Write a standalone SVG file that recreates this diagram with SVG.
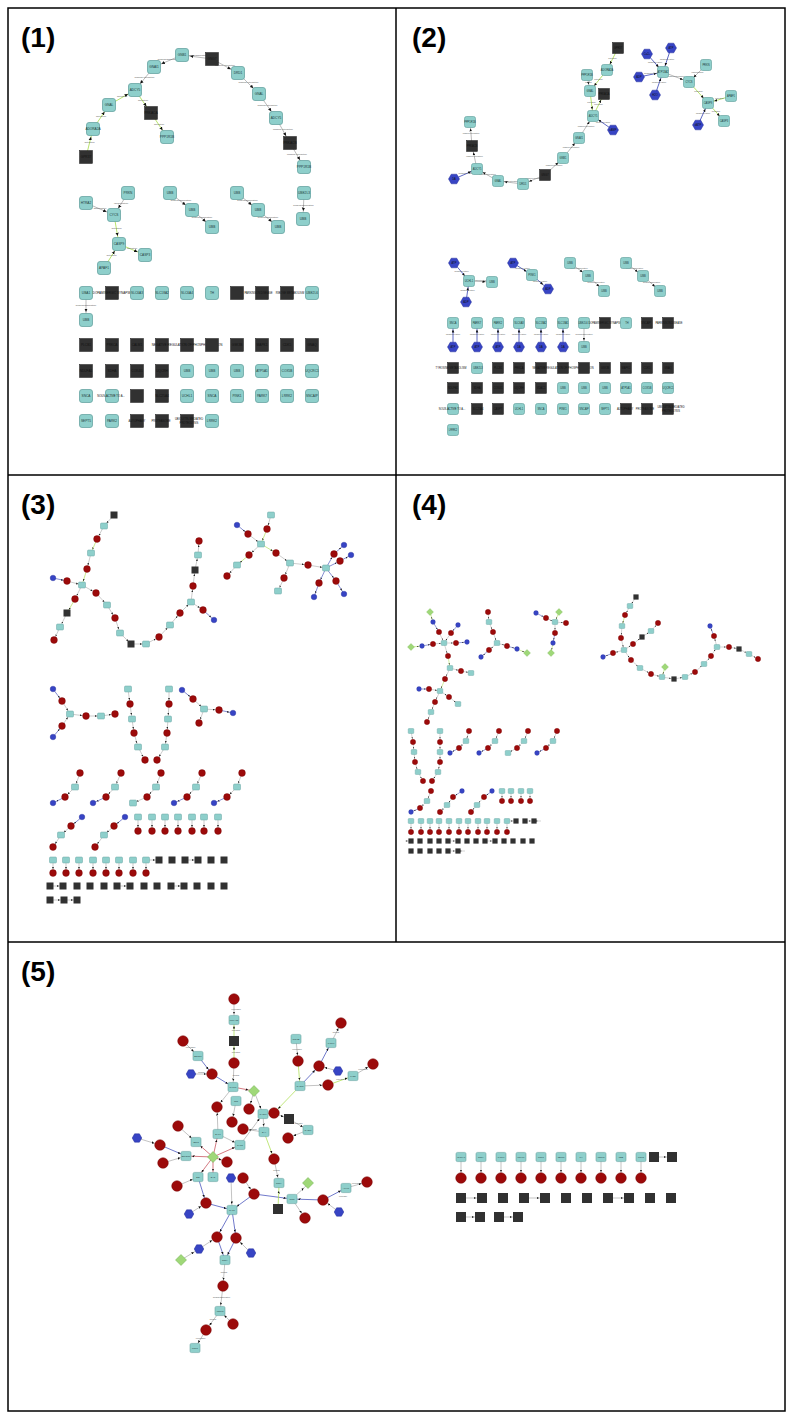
<svg xmlns="http://www.w3.org/2000/svg" xmlns:xlink="http://www.w3.org/1999/xlink" width="793" height="1419" viewBox="0 0 793 1419">
<style>
text{font-family:"Liberation Sans",Arial,sans-serif}
.pl{font-size:28px;font-weight:bold;fill:#000}
.l1{font-size:3.2px;text-anchor:middle;fill:#1d3b3a}
.l2{font-size:2.6px;text-anchor:middle;fill:#1d3b3a}
.l5{font-size:2.1px;text-anchor:middle;fill:#1d3b3a}
.lk{fill:#111}
.wt{font-size:3px;text-anchor:middle;fill:#111}
.ws{font-size:2.7px}
.w2{font-size:2.6px;text-anchor:middle;fill:#111}
.el{font-size:2.4px;text-anchor:middle;fill:#555}
.el2{font-size:2px;text-anchor:middle;fill:#555}
line{stroke:#a9a9a9;stroke-width:0.8;fill:none}
.gr{stroke:#a6dc45}
.bl{stroke:#3441b4}
.rd{stroke:#c2404c}
.c1 line{marker-end:url(#a1)}
.c2 line{marker-end:url(#a2)}
.c3 line{marker-end:url(#a3);stroke-width:0.6}
.c4 line{marker-end:url(#a4);stroke-width:0.5}
.c5 line{marker-end:url(#a5);stroke-width:0.7}
</style>
<defs>
<marker id="a1" markerUnits="userSpaceOnUse" markerWidth="4" markerHeight="4" refX="11.5" refY="2" orient="auto"><path d="M0,0.4 L3.5,2 L0,3.6z" fill="#111"/></marker>
<marker id="a2" markerUnits="userSpaceOnUse" markerWidth="3" markerHeight="3" refX="9.5" refY="1.5" orient="auto"><path d="M0,0.2 L3,1.5 L0,2.8z" fill="#111"/></marker>
<marker id="a3" markerUnits="userSpaceOnUse" markerWidth="2" markerHeight="2" refX="6" refY="1" orient="auto"><path d="M0,0 L2,1 L0,2z" fill="#222"/></marker>
<marker id="a4" markerUnits="userSpaceOnUse" markerWidth="1.6" markerHeight="1.6" refX="4.8" refY="0.8" orient="auto"><path d="M0,0 L1.6,0.8 L0,1.6z" fill="#222"/></marker>
<marker id="a5" markerUnits="userSpaceOnUse" markerWidth="2.5" markerHeight="2.5" refX="8.5" refY="1.25" orient="auto"><path d="M0,0 L2.5,1.25 L0,2.5z" fill="#111"/></marker>
<rect id="t1" x="-6.5" y="-6.5" width="13" height="13" rx="2.5" fill="#8ecfcb" stroke="#68a5a2" stroke-width="0.8"/>
<rect id="k1" x="-6.5" y="-6.5" width="13" height="13" fill="#313131" stroke="#1e1e1e" stroke-width="0.5"/>
<rect id="t2" x="-5.5" y="-5.5" width="11" height="11" rx="2" fill="#8ecfcb" stroke="#68a5a2" stroke-width="0.7"/>
<rect id="k2" x="-5.5" y="-5.5" width="11" height="11" fill="#313131" stroke="#1e1e1e" stroke-width="0.5"/>
<polygon id="b2" points="-5.5,0 -2.75,-4.8 2.75,-4.8 5.5,0 2.75,4.8 -2.75,4.8" fill="#3744c4" stroke="#26309a" stroke-width="0.5"/>
<rect id="t3" x="-3.5" y="-3" width="7" height="6" rx="1" fill="#8ecfcb" stroke="#68a5a2" stroke-width="0.5"/>
<rect id="k3" x="-3.5" y="-3.5" width="7" height="7" fill="#313131"/>
<circle id="r3" r="3.4" fill="#9c0a0a" stroke="#7a0606" stroke-width="0.4"/>
<circle id="b3" r="2.8" fill="#3744c4" stroke="#26309a" stroke-width="0.4"/>
<rect id="t4" x="-2.8" y="-2.5" width="5.6" height="5" rx="0.8" fill="#8ecfcb" stroke="#68a5a2" stroke-width="0.4"/>
<rect id="k4" x="-2.6" y="-2.6" width="5.2" height="5.2" fill="#313131"/>
<circle id="r4" r="2.7" fill="#9c0a0a" stroke="#7a0606" stroke-width="0.3"/>
<circle id="b4" r="2.4" fill="#3744c4" stroke="#26309a" stroke-width="0.3"/>
<polygon id="g4" points="0,-3.5 3.5,0 0,3.5 -3.5,0" fill="#9fd878" stroke="#6fae4c" stroke-width="0.3"/>
<rect id="t5" x="-5" y="-4.6" width="10" height="9.2" rx="1.5" fill="#8ecfcb" stroke="#68a5a2" stroke-width="0.6"/>
<rect id="k5" x="-5" y="-5" width="10" height="10" fill="#313131"/>
<circle id="r5" r="5.3" fill="#9c0a0a" stroke="#7a0606" stroke-width="0.5"/>
<polygon id="b5" points="-4.8,0 -2.4,-4.2 2.4,-4.2 4.8,0 2.4,4.2 -2.4,4.2" fill="#3744c4" stroke="#26309a" stroke-width="0.5"/>
<polygon id="g5" points="0,-5.5 5.5,0 0,5.5 -5.5,0" fill="#9fd878" stroke="#6fae4c" stroke-width="0.5"/>
</defs>
<rect width="793" height="1419" fill="#fff"/>
<g id="frame" fill="none" stroke="#000" stroke-width="1.5">
<rect x="8" y="8" width="777" height="1403"/>
<path d="M8,475H785M8,942H785M396,8V942"/>
</g>
<g id="panel-labels">
<text class="pl" x="21" y="47">(1)</text>
<text class="pl" x="412" y="47">(2)</text>
<text class="pl" x="21" y="514">(3)</text>
<text class="pl" x="412" y="514">(4)</text>
<text class="pl" x="21" y="981">(5)</text>
</g>

<!-- ================= PANEL 1 ================= -->
<g id="p1-connectors" class="c1">
<line class="gr" x1="86" y1="157" x2="93" y2="129"/>
<line class="gr" x1="93" y1="129" x2="109" y2="105"/>
<line class="gr" x1="109" y1="105" x2="135" y2="90"/>
<line class="gr" x1="135" y1="90" x2="151" y2="113"/>
<line class="gr" x1="151" y1="113" x2="167" y2="137"/>
<line x1="154" y1="67" x2="135" y2="90"/>
<line x1="182" y1="55" x2="154" y2="67"/>
<line x1="212" y1="59" x2="182" y2="55"/>
<line x1="212" y1="59" x2="238" y2="73"/>
<line x1="238" y1="73" x2="259" y2="94"/>
<line x1="259" y1="94" x2="276" y2="118"/>
<line x1="276" y1="118" x2="290" y2="143"/>
<line x1="290" y1="143" x2="304" y2="167"/>
<line x1="128" y1="193" x2="114" y2="215"/>
<line x1="86" y1="203" x2="114" y2="215"/>
<line class="gr" x1="114" y1="215" x2="119" y2="244"/>
<line class="gr" x1="104" y1="268" x2="119" y2="244"/>
<line class="gr" x1="119" y1="244" x2="145" y2="255"/>
<line x1="170" y1="193" x2="192" y2="210"/>
<line x1="192" y1="210" x2="212" y2="227"/>
<line x1="237" y1="193" x2="258" y2="210"/>
<line x1="258" y1="210" x2="278" y2="227"/>
<line x1="304" y1="193" x2="303" y2="219"/>
<line x1="86" y1="293" x2="86" y2="320"/>
</g>
<g id="p1-edge-labels">
<text class="el" x="89.5" y="143">activation</text>
<text class="el" x="101" y="117">activation</text>
<text class="el" x="122" y="96.5">activation</text>
<text class="el" x="143" y="101">activation</text>
<text class="el" x="159" y="124.5">activation</text>
<text class="el" x="144.5" y="78">missing interaction</text>
<text class="el" x="168" y="60">binding/association</text>
<text class="el" x="197" y="56">binding/association</text>
<text class="el" x="225" y="65.5">missing interaction</text>
<text class="el" x="248.5" y="83">missing interaction</text>
<text class="el" x="267.5" y="105.5">missing interaction</text>
<text class="el" x="283" y="130">missing interaction</text>
<text class="el" x="297" y="154.5">missing interaction</text>
<text class="el" x="121" y="203.5">ubiquitination</text>
<text class="el" x="100" y="208.5">dissociation</text>
<text class="el" x="116.5" y="229">activation</text>
<text class="el" x="111.5" y="255.5">activation</text>
<text class="el" x="132" y="249">activation</text>
<text class="el" x="181" y="201">binding/association</text>
<text class="el" x="202" y="218">binding/association</text>
<text class="el" x="247.5" y="201">binding/association</text>
<text class="el" x="268" y="218">binding/association</text>
<text class="el" x="303.5" y="205.5">binding/association</text>
<text class="el" x="86" y="306">binding/association</text>
</g>
<g id="p1-nodes">
<g id="p1-gpr37"><use href="#k1" x="86" y="157"/><text class="l1 lk" x="86" y="158.1">GPR37</text></g>
<g id="p1-adora2a"><use href="#t1" x="93" y="129"/><text class="l1" x="93" y="130.1">ADORA2A</text></g>
<g id="p1-gnal-a"><use href="#t1" x="109" y="105"/><text class="l1" x="109" y="106.1">GNAL</text></g>
<g id="p1-adcy5-a"><use href="#t1" x="135" y="90"/><text class="l1" x="135" y="91.1">ADCY5</text></g>
<g id="p1-prkaca"><use href="#k1" x="151" y="113"/><text class="l1 lk" x="151" y="114.1">PRKACA</text></g>
<g id="p1-ppp1r1b-a"><use href="#t1" x="167" y="137"/><text class="l1" x="167" y="138.1">PPP1R1B</text></g>
<g id="p1-gnai1"><use href="#t1" x="154" y="67"/><text class="l1" x="154" y="68.1">GNAI1</text></g>
<g id="p1-gnb1"><use href="#t1" x="182" y="55"/><text class="l1" x="182" y="56.1">GNB1</text></g>
<g id="p1-gng7"><use href="#k1" x="212" y="59"/><text class="l1 lk" x="212" y="60.1">GNG7</text></g>
<g id="p1-drd1"><use href="#t1" x="238" y="73"/><text class="l1" x="238" y="74.1">DRD1</text></g>
<g id="p1-gnal-b"><use href="#t1" x="259" y="94"/><text class="l1" x="259" y="95.1">GNAL</text></g>
<g id="p1-adcy5-b"><use href="#t1" x="276" y="118"/><text class="l1" x="276" y="119.1">ADCY5</text></g>
<g id="p1-prkacb"><use href="#k1" x="290" y="143"/><text class="l1 lk" x="290" y="144.1">PRKACB</text></g>
<g id="p1-ppp1r1b-b"><use href="#t1" x="304" y="167"/><text class="l1" x="304" y="168.1">PPP1R1B</text></g>
<g id="p1-prkn"><use href="#t1" x="128" y="193"/><text class="l1" x="128" y="194.1">PRKN</text></g>
<g id="p1-htra2"><use href="#t1" x="86" y="203"/><text class="l1" x="86" y="204.1">HTRA2</text></g>
<g id="p1-cycs"><use href="#t1" x="114" y="215"/><text class="l1" x="114" y="216.1">CYCS</text></g>
<g id="p1-casp9"><use href="#t1" x="119" y="244"/><text class="l1" x="119" y="245.1">CASP9</text></g>
<g id="p1-casp3"><use href="#t1" x="145" y="255"/><text class="l1" x="145" y="256.1">CASP3</text></g>
<g id="p1-apaf1"><use href="#t1" x="104" y="268"/><text class="l1" x="104" y="269.1">APAF1</text></g>
<g id="p1-ubb1"><use href="#t1" x="170" y="193"/><text class="l1" x="170" y="194.1">UBB</text></g>
<g id="p1-ubb2"><use href="#t1" x="192" y="210"/><text class="l1" x="192" y="211.1">UBB</text></g>
<g id="p1-ubb3"><use href="#t1" x="212" y="227"/><text class="l1" x="212" y="228.1">UBB</text></g>
<g id="p1-ubb4"><use href="#t1" x="237" y="193"/><text class="l1" x="237" y="194.1">UBB</text></g>
<g id="p1-ubb5"><use href="#t1" x="258" y="210"/><text class="l1" x="258" y="211.1">UBB</text></g>
<g id="p1-ubb6"><use href="#t1" x="278" y="227"/><text class="l1" x="278" y="228.1">UBB</text></g>
<g id="p1-ube2l3"><use href="#t1" x="304" y="193"/><text class="l1" x="304" y="194.1">UBE2L3</text></g>
<g id="p1-ubb7"><use href="#t1" x="303" y="219"/><text class="l1" x="303" y="220.1">UBB</text></g>
<g id="p1-uba1"><use href="#t1" x="86" y="293"/><text class="l1" x="86" y="294.1">UBA1</text></g>
<g id="p1-ubb8"><use href="#t1" x="86" y="320"/><text class="l1" x="86" y="321.1">UBB</text></g>
<g id="p1-r1-2"><use href="#k1" x="112" y="293"/><text class="wt" x="112" y="294.1">DOPAMINERGIC SYNAPSE</text></g>
<g id="p1-r1-3"><use href="#t1" x="137" y="293"/><text class="l1" x="137" y="294.1">SLC6A3</text></g>
<g id="p1-r1-4"><use href="#t1" x="162" y="293"/><text class="l1" x="162" y="294.1">SLC18A2</text></g>
<g id="p1-r1-5"><use href="#t1" x="187" y="293"/><text class="l1" x="187" y="294.1">SLC6A4</text></g>
<g id="p1-r1-6"><use href="#t1" x="212" y="293"/><text class="l1" x="212" y="294.1">TH</text></g>
<g id="p1-r1-7"><use href="#k1" x="237" y="293"/></g>
<g id="p1-r1-8"><use href="#k1" x="262" y="293"/><text class="wt ws" x="258.5" y="294.1">PARKINSON DISEASE</text></g>
<g id="p1-r1-9"><use href="#k1" x="287" y="293"/><text class="wt ws" x="290" y="294.1">RIBOSE METABOLISM</text></g>
<g id="p1-r1-10"><use href="#t1" x="312" y="293"/><text class="l1" x="312" y="294.1">UBE2L6</text></g>
<g id="p1-r2-1"><use href="#k1" x="86" y="345"/><text class="l1 lk" x="86" y="346.1">PLCB1</text></g>
<g id="p1-r2-2"><use href="#k1" x="112" y="345"/><text class="l1 lk" x="112" y="346.1">PRKCA</text></g>
<g id="p1-r2-3"><use href="#k1" x="137" y="345"/><text class="l1 lk" x="137" y="346.1">CALM1</text></g>
<g id="p1-r2-4"><use href="#k1" x="162" y="345"/></g>
<g id="p1-r2-5"><use href="#k1" x="187" y="345"/><text class="wt" x="187" y="346.1">NEGATIVE REGULATION OF PHOSPHORYLATION</text></g>
<g id="p1-r2-6"><use href="#k1" x="212" y="345"/></g>
<g id="p1-r2-7"><use href="#k1" x="237" y="345"/><text class="l1 lk" x="237" y="346.1">GSK3B</text></g>
<g id="p1-r2-8"><use href="#k1" x="262" y="345"/><text class="l1 lk" x="262" y="346.1">MAPK1</text></g>
<g id="p1-r2-9"><use href="#k1" x="287" y="345"/><text class="l1 lk" x="287" y="346.1">CDK5</text></g>
<g id="p1-r2-10"><use href="#k1" x="312" y="345"/><text class="l1 lk" x="312" y="346.1">GNAQ</text></g>
<g id="p1-r3-1"><use href="#k1" x="86" y="371"/><text class="l1 lk" x="86" y="372.1">NDUFA1</text></g>
<g id="p1-r3-2"><use href="#k1" x="112" y="371"/><text class="l1 lk" x="112" y="372.1">SDHA</text></g>
<g id="p1-r3-3"><use href="#k1" x="137" y="371"/><text class="l1 lk" x="137" y="372.1">COX4I1</text></g>
<g id="p1-r3-4"><use href="#k1" x="162" y="371"/><text class="l1 lk" x="162" y="372.1">UQCRH</text></g>
<g id="p1-r3-5"><use href="#t1" x="187" y="371"/><text class="l1" x="187" y="372.1">UBB</text></g>
<g id="p1-r3-6"><use href="#t1" x="212" y="371"/><text class="l1" x="212" y="372.1">UBB</text></g>
<g id="p1-r3-7"><use href="#t1" x="237" y="371"/><text class="l1" x="237" y="372.1">UBB</text></g>
<g id="p1-r3-8"><use href="#t1" x="262" y="371"/><text class="l1" x="262" y="372.1">ATP5A1</text></g>
<g id="p1-r3-9"><use href="#t1" x="287" y="371"/><text class="l1" x="287" y="372.1">COX5B</text></g>
<g id="p1-r3-10"><use href="#t1" x="312" y="371"/><text class="l1" x="312" y="372.1">UQCRC1</text></g>
<g id="p1-r4-1"><use href="#t1" x="86" y="396"/><text class="l1" x="86" y="397.1">SNCA</text></g>
<g id="p1-r4-2"><use href="#t1" x="112" y="396"/><text class="wt ws" x="111" y="397.1">NOUS-ACTIVE TO A...</text></g>
<g id="p1-r4-3"><use href="#k1" x="137" y="396"/></g>
<g id="p1-r4-4"><use href="#k1" x="162" y="396"/><text class="l1 lk" x="162" y="397.1">SLC25A4</text></g>
<g id="p1-r4-5"><use href="#t1" x="187" y="396"/><text class="l1" x="187" y="397.1">UCHL1</text></g>
<g id="p1-r4-6"><use href="#t1" x="212" y="396"/><text class="l1" x="212" y="397.1">SNCA</text></g>
<g id="p1-r4-7"><use href="#t1" x="237" y="396"/><text class="l1" x="237" y="397.1">PINK1</text></g>
<g id="p1-r4-8"><use href="#t1" x="262" y="396"/><text class="l1" x="262" y="397.1">PARK7</text></g>
<g id="p1-r4-9"><use href="#t1" x="287" y="396"/><text class="l1" x="287" y="397.1">LRRK2</text></g>
<g id="p1-r4-10"><use href="#t1" x="312" y="396"/><text class="l1" x="312" y="397.1">SNCAIP</text></g>
<g id="p1-r5-1"><use href="#t1" x="86" y="421"/><text class="l1" x="86" y="422.1">SEPT5</text></g>
<g id="p1-r5-2"><use href="#t1" x="112" y="421"/><text class="l1" x="112" y="422.1">PARK2</text></g>
<g id="p1-r5-3"><use href="#k1" x="137" y="421"/><text class="wt ws" x="137" y="422.1">AUTOPHAGY</text></g>
<g id="p1-r5-4"><use href="#k1" x="162" y="421"/><text class="wt ws" x="161" y="422.1">PROTEASOME</text></g>
<g id="p1-r5-5"><use href="#k1" x="187" y="421"/><text class="wt ws" x="189" y="420">UBIQUITIN-MEDIATED</text><text class="wt ws" x="189" y="424">PROTEOLYSIS</text></g>
<g id="p1-r5-6"><use href="#t1" x="212" y="421"/><text class="l1" x="212" y="422.1">LRRK2</text></g>
</g>

<!-- ================= PANEL 2 ================= -->
<g id="p2-connectors" class="c2">
<line class="gr" x1="618" y1="48" x2="607" y2="70"/>
<line class="gr" x1="607" y1="70" x2="590" y2="91"/>
<line x1="587" y1="75" x2="590" y2="91"/>
<line class="gr" x1="590" y1="91" x2="593" y2="116"/>
<line class="gr" x1="593" y1="116" x2="604" y2="94"/>
<line class="bl" x1="613" y1="130" x2="593" y2="116"/>
<line x1="579" y1="138" x2="593" y2="116"/>
<line x1="563" y1="158" x2="579" y2="138"/>
<line x1="545" y1="175" x2="563" y2="158"/>
<line x1="545" y1="175" x2="523" y2="184"/>
<line x1="523" y1="184" x2="498" y2="181"/>
<line x1="498" y1="181" x2="477" y2="169"/>
<line class="bl" x1="454" y1="179" x2="477" y2="169"/>
<line x1="477" y1="169" x2="472" y2="146"/>
<line x1="472" y1="146" x2="470" y2="122"/>
<line class="bl" x1="647" y1="54" x2="663" y2="72"/>
<line class="bl" x1="671" y1="48" x2="663" y2="72"/>
<line class="bl" x1="639" y1="77" x2="663" y2="72"/>
<line class="bl" x1="655" y1="95" x2="663" y2="72"/>
<line x1="663" y1="72" x2="689" y2="82"/>
<line x1="706" y1="65" x2="689" y2="82"/>
<line class="gr" x1="689" y1="82" x2="708" y2="103"/>
<line class="gr" x1="731" y1="96" x2="708" y2="103"/>
<line class="gr" x1="708" y1="103" x2="724" y2="121"/>
<line class="bl" x1="698" y1="125" x2="708" y2="103"/>
<line class="bl" x1="454" y1="263" x2="469" y2="281"/>
<line class="bl" x1="466" y1="302" x2="469" y2="281"/>
<line x1="469" y1="281" x2="492" y2="282"/>
<line class="bl" x1="513" y1="263" x2="532" y2="275"/>
<line class="bl" x1="532" y1="275" x2="548" y2="289"/>
<line x1="570" y1="263" x2="588" y2="276"/>
<line x1="588" y1="276" x2="604" y2="291"/>
<line x1="626" y1="263" x2="643" y2="276"/>
<line x1="643" y1="276" x2="660" y2="291"/>
<line class="bl" x1="453" y1="347" x2="453" y2="323"/>
<line class="bl" x1="477" y1="347" x2="477" y2="323"/>
<line class="bl" x1="498" y1="347" x2="498" y2="323"/>
<line class="bl" x1="519" y1="347" x2="519" y2="323"/>
<line class="bl" x1="541" y1="347" x2="541" y2="323"/>
<line class="bl" x1="563" y1="347" x2="563" y2="323"/>
<line x1="584" y1="323" x2="584" y2="347"/>
</g>
<g id="p2-edge-labels">
<text class="el2" x="612.5" y="58.5">activation</text>
<text class="el2" x="598.5" y="80">activation</text>
<text class="el2" x="588.5" y="82.5">binding</text>
<text class="el2" x="591.5" y="103">activation</text>
<text class="el2" x="598.5" y="104.5">activation</text>
<text class="el2" x="603" y="122.5">phosphorylation</text>
<text class="el2" x="586" y="126.5">missing interaction</text>
<text class="el2" x="571" y="147.5">missing interaction</text>
<text class="el2" x="554" y="166">missing interaction</text>
<text class="el2" x="534" y="179">missing interaction</text>
<text class="el2" x="510.5" y="182">missing interaction</text>
<text class="el2" x="487.5" y="174.5">missing interaction</text>
<text class="el2" x="465.5" y="173.5">phosphorylation</text>
<text class="el2" x="474.5" y="157">missing interaction</text>
<text class="el2" x="471" y="133.5">missing interaction</text>
<text class="el2" x="655" y="62.5">phosphorylation</text>
<text class="el2" x="667" y="59.5">phosphorylation</text>
<text class="el2" x="651" y="74">phosphorylation</text>
<text class="el2" x="659" y="83">phosphorylation</text>
<text class="el2" x="676" y="76.5">missing interaction</text>
<text class="el2" x="697.5" y="73">ubiquitination</text>
<text class="el2" x="698.5" y="92">activation</text>
<text class="el2" x="719.5" y="99">activation</text>
<text class="el2" x="716" y="111.5">activation</text>
<text class="el2" x="703" y="113.5">phosphorylation</text>
<text class="el2" x="461.5" y="271.5">phosphorylation</text>
<text class="el2" x="467.5" y="291">phosphorylation</text>
<text class="el2" x="480.5" y="281">ubiquitination</text>
<text class="el2" x="522.5" y="268.5">phosphorylation</text>
<text class="el2" x="540" y="281.5">phosphorylation</text>
<text class="el2" x="579" y="269">binding/association</text>
<text class="el2" x="596" y="283">binding/association</text>
<text class="el2" x="634.5" y="269">binding/association</text>
<text class="el2" x="651.5" y="283">binding/association</text>
<text class="el2" x="453" y="335">phosphorylation</text>
<text class="el2" x="477" y="335">phosphorylation</text>
<text class="el2" x="498" y="335">phosphorylation</text>
<text class="el2" x="519" y="335">phosphorylation</text>
<text class="el2" x="541" y="335">phosphorylation</text>
<text class="el2" x="563" y="335">phosphorylation</text>
<text class="el2" x="584" y="335">binding/association</text>
</g>
<g id="p2-nodes">
<g id="p2-gpr37"><use href="#k2" x="618" y="48"/><text class="l2 lk" x="618" y="49">GPR37</text></g>
<g id="p2-adora2a"><use href="#t2" x="607" y="70"/><text class="l2" x="607" y="71">ADORA2A</text></g>
<g id="p2-ppp1r1b-a"><use href="#t2" x="587" y="75"/><text class="l2" x="587" y="76">PPP1R1B</text></g>
<g id="p2-gnal-a"><use href="#t2" x="590" y="91"/><text class="l2" x="590" y="92">GNAL</text></g>
<g id="p2-prkaca"><use href="#k2" x="604" y="94"/><text class="l2 lk" x="604" y="95">PRKACA</text></g>
<g id="p2-adcy5-a"><use href="#t2" x="593" y="116"/><text class="l2" x="593" y="117">ADCY5</text></g>
<g id="p2-camp"><use href="#b2" x="613" y="130"/><text class="l2 lk" x="613" y="131">cAMP</text></g>
<g id="p2-gnai1"><use href="#t2" x="579" y="138"/><text class="l2" x="579" y="139">GNAI1</text></g>
<g id="p2-gnb1"><use href="#t2" x="563" y="158"/><text class="l2" x="563" y="159">GNB1</text></g>
<g id="p2-gng7"><use href="#k2" x="545" y="175"/><text class="l2 lk" x="545" y="176">GNG7</text></g>
<g id="p2-drd1"><use href="#t2" x="523" y="184"/><text class="l2" x="523" y="185">DRD1</text></g>
<g id="p2-gnal-b"><use href="#t2" x="498" y="181"/><text class="l2" x="498" y="182">GNAL</text></g>
<g id="p2-da"><use href="#b2" x="454" y="179"/><text class="l2 lk" x="454" y="180">DA</text></g>
<g id="p2-adcy5-b"><use href="#t2" x="477" y="169"/><text class="l2" x="477" y="170">ADCY5</text></g>
<g id="p2-prkacb"><use href="#k2" x="472" y="146"/><text class="l2 lk" x="472" y="147">PRKACB</text></g>
<g id="p2-ppp1r1b-b"><use href="#t2" x="470" y="122"/><text class="l2" x="470" y="123">PPP1R1B</text></g>
<g id="p2-ca"><use href="#b2" x="647" y="54"/><text class="l2 lk" x="647" y="55">Ca2+</text></g>
<g id="p2-atp"><use href="#b2" x="671" y="48"/><text class="l2 lk" x="671" y="49">ATP</text></g>
<g id="p2-adp"><use href="#b2" x="639" y="77"/><text class="l2 lk" x="639" y="78">ADP</text></g>
<g id="p2-h2o"><use href="#b2" x="655" y="95"/><text class="l2 lk" x="655" y="96">H2O</text></g>
<g id="p2-atp13a2"><use href="#t2" x="663" y="72"/><text class="l2" x="663" y="73">ATP13A2</text></g>
<g id="p2-cycs"><use href="#t2" x="689" y="82"/><text class="l2" x="689" y="83">CYCS</text></g>
<g id="p2-prkn"><use href="#t2" x="706" y="65"/><text class="l2" x="706" y="66">PRKN</text></g>
<g id="p2-casp9"><use href="#t2" x="708" y="103"/><text class="l2" x="708" y="104">CASP9</text></g>
<g id="p2-apaf1"><use href="#t2" x="731" y="96"/><text class="l2" x="731" y="97">APAF1</text></g>
<g id="p2-casp3"><use href="#t2" x="724" y="121"/><text class="l2" x="724" y="122">CASP3</text></g>
<g id="p2-datp"><use href="#b2" x="698" y="125"/><text class="l2 lk" x="698" y="126">dATP</text></g>
<g id="p2-c1"><use href="#b2" x="454" y="263"/><text class="l2 lk" x="454" y="264">ATP</text></g>
<g id="p2-uchl1"><use href="#t2" x="469" y="281"/><text class="l2" x="469" y="282">UCHL1</text></g>
<g id="p2-ubb0"><use href="#t2" x="492" y="282"/><text class="l2" x="492" y="283">UBB</text></g>
<g id="p2-c2"><use href="#b2" x="466" y="302"/><text class="l2 lk" x="466" y="303">ADP</text></g>
<g id="p2-c3"><use href="#b2" x="513" y="263"/><text class="l2 lk" x="513" y="264">ATP</text></g>
<g id="p2-pink1"><use href="#t2" x="532" y="275"/><text class="l2" x="532" y="276">PINK1</text></g>
<g id="p2-c4"><use href="#b2" x="548" y="289"/><text class="l2 lk" x="548" y="290">ADP</text></g>
<g id="p2-ubb1"><use href="#t2" x="570" y="263"/><text class="l2" x="570" y="264">UBB</text></g>
<g id="p2-ubb2"><use href="#t2" x="588" y="276"/><text class="l2" x="588" y="277">UBB</text></g>
<g id="p2-ubb3"><use href="#t2" x="604" y="291"/><text class="l2" x="604" y="292">UBB</text></g>
<g id="p2-ubb4"><use href="#t2" x="626" y="263"/><text class="l2" x="626" y="264">UBB</text></g>
<g id="p2-ubb5"><use href="#t2" x="643" y="276"/><text class="l2" x="643" y="277">UBB</text></g>
<g id="p2-ubb6"><use href="#t2" x="660" y="291"/><text class="l2" x="660" y="292">UBB</text></g>
<g id="p2-r1-1"><use href="#t2" x="453" y="323"/><text class="l2" x="453" y="324">SNCA</text></g>
<g id="p2-r1-2"><use href="#t2" x="477" y="323"/><text class="l2" x="477" y="324">PARK7</text></g>
<g id="p2-r1-3"><use href="#t2" x="498" y="323"/><text class="l2" x="498" y="324">PARK2</text></g>
<g id="p2-r1-4"><use href="#t2" x="519" y="323"/><text class="l2" x="519" y="324">SLC6A3</text></g>
<g id="p2-r1-5"><use href="#t2" x="541" y="323"/><text class="l2" x="541" y="324">SLC18A2</text></g>
<g id="p2-r1-6"><use href="#t2" x="563" y="323"/><text class="l2" x="563" y="324">SLC18A1</text></g>
<g id="p2-r1-7"><use href="#t2" x="584" y="323"/><text class="l2" x="583" y="324">UBE2L6</text></g>
<g id="p2-r1-8"><use href="#k2" x="605" y="323"/><text class="w2" x="605" y="324">DOPAMINERGIC SYNAPSE</text></g>
<g id="p2-r1-9"><use href="#t2" x="626" y="323"/><text class="l2" x="627" y="324">TH</text></g>
<g id="p2-r1-10"><use href="#k2" x="647" y="323"/><text class="l2 lk" x="646" y="324">SNCAIP</text></g>
<g id="p2-r1-11"><use href="#k2" x="668" y="323"/><text class="w2" x="669" y="324">PARKINSON DISEASE</text></g>
<g id="p2-m1"><use href="#b2" x="453" y="347"/><text class="l2 lk" x="453" y="348">ATP</text></g>
<g id="p2-m2"><use href="#b2" x="477" y="347"/><text class="l2 lk" x="477" y="348">ATP</text></g>
<g id="p2-m3"><use href="#b2" x="498" y="347"/><text class="l2 lk" x="498" y="348">ATP</text></g>
<g id="p2-m4"><use href="#b2" x="519" y="347"/><text class="l2 lk" x="519" y="348">DA</text></g>
<g id="p2-m5"><use href="#b2" x="541" y="347"/><text class="l2 lk" x="541" y="348">DA</text></g>
<g id="p2-m6"><use href="#b2" x="563" y="347"/><text class="l2 lk" x="563" y="348">DA</text></g>
<g id="p2-ubb7"><use href="#t2" x="584" y="347"/><text class="l2" x="584" y="348">UBB</text></g>
<g id="p2-r2-1"><use href="#k2" x="453" y="368"/><text class="w2" x="451" y="369">TYROSINE METABOLISM</text></g>
<g id="p2-r2-2"><use href="#t2" x="477" y="368"/><text class="l2" x="478" y="369">UBE2L3</text></g>
<g id="p2-r2-3"><use href="#k2" x="498" y="368"/><text class="l2 lk" x="498" y="369">PLCB1</text></g>
<g id="p2-r2-4"><use href="#k2" x="519" y="368"/><text class="l2 lk" x="519" y="369">PRKCA</text></g>
<g id="p2-r2-5"><use href="#k2" x="541" y="368"/></g>
<g id="p2-r2-6"><use href="#k2" x="563" y="368"/><text class="w2" x="563" y="369">NEGATIVE REGULATION OF PHOSPHORYLATION</text></g>
<g id="p2-r2-7"><use href="#k2" x="584" y="368"/></g>
<g id="p2-r2-8"><use href="#k2" x="605" y="368"/><text class="l2 lk" x="605" y="369">GSK3B</text></g>
<g id="p2-r2-9"><use href="#k2" x="626" y="368"/><text class="l2 lk" x="626" y="369">MAPK1</text></g>
<g id="p2-r2-10"><use href="#k2" x="647" y="368"/><text class="l2 lk" x="647" y="369">CDK5</text></g>
<g id="p2-r2-11"><use href="#k2" x="668" y="368"/><text class="l2 lk" x="668" y="369">GNAQ</text></g>
<g id="p2-r3-1"><use href="#k2" x="453" y="388"/><text class="l2 lk" x="453" y="389">NDUFA1</text></g>
<g id="p2-r3-2"><use href="#k2" x="477" y="388"/><text class="l2 lk" x="477" y="389">SDHA</text></g>
<g id="p2-r3-3"><use href="#k2" x="498" y="388"/><text class="l2 lk" x="498" y="389">COX4I1</text></g>
<g id="p2-r3-4"><use href="#k2" x="519" y="388"/><text class="l2 lk" x="519" y="389">UQCRH</text></g>
<g id="p2-r3-5"><use href="#k2" x="541" y="388"/><text class="l2 lk" x="541" y="389">VDAC1</text></g>
<g id="p2-r3-6"><use href="#t2" x="563" y="388"/><text class="l2" x="563" y="389">UBB</text></g>
<g id="p2-r3-7"><use href="#t2" x="584" y="388"/><text class="l2" x="584" y="389">UBB</text></g>
<g id="p2-r3-8"><use href="#t2" x="605" y="388"/><text class="l2" x="605" y="389">UBB</text></g>
<g id="p2-r3-9"><use href="#t2" x="626" y="388"/><text class="l2" x="626" y="389">ATP5A1</text></g>
<g id="p2-r3-10"><use href="#t2" x="647" y="388"/><text class="l2" x="647" y="389">COX5B</text></g>
<g id="p2-r3-11"><use href="#t2" x="668" y="388"/><text class="l2" x="668" y="389">UQCRC1</text></g>
<g id="p2-r4-1"><use href="#t2" x="453" y="409"/><text class="w2" x="452" y="410">NOUS-ACTIVE TO A...</text></g>
<g id="p2-r4-2"><use href="#k2" x="477" y="409"/><text class="l2 lk" x="478" y="410">SLC25A4</text></g>
<g id="p2-r4-3"><use href="#k2" x="498" y="409"/><text class="l2 lk" x="498" y="410">CASP7</text></g>
<g id="p2-r4-4"><use href="#t2" x="519" y="409"/><text class="l2" x="519" y="410">UCHL1</text></g>
<g id="p2-r4-5"><use href="#t2" x="541" y="409"/><text class="l2" x="541" y="410">SNCA</text></g>
<g id="p2-r4-6"><use href="#t2" x="563" y="409"/><text class="l2" x="563" y="410">PINK1</text></g>
<g id="p2-r4-7"><use href="#t2" x="584" y="409"/><text class="l2" x="584" y="410">SNCAIP</text></g>
<g id="p2-r4-8"><use href="#t2" x="605" y="409"/><text class="l2" x="605" y="410">SEPT5</text></g>
<g id="p2-r4-9"><use href="#k2" x="626" y="409"/><text class="l2 lk" x="625" y="410">AUTOPHAGY</text></g>
<g id="p2-r4-10"><use href="#k2" x="647" y="409"/><text class="w2" x="645" y="410">PROTEASOME</text></g>
<g id="p2-r4-11"><use href="#k2" x="668" y="409"/><text class="w2" x="671" y="407.5">UBIQUITIN-MEDIATED</text><text class="w2" x="671" y="411.5">PROTEOLYSIS</text></g>
<g id="p2-r5-1"><use href="#t2" x="453" y="430"/><text class="l2" x="453" y="431">LRRK2</text></g>
</g>

<!-- ================= PANEL 3 ================= -->
<g id="p3-connectors" class="c3">
<line x1="114" y1="515" x2="104" y2="526"/><line x1="104" y1="526" x2="97" y2="539"/><line class="gr" x1="97" y1="539" x2="91" y2="553"/><line x1="91" y1="553" x2="87" y2="569"/><line class="gr" x1="87" y1="569" x2="82" y2="585"/>
<line class="bl" x1="53" y1="578" x2="67" y2="581"/><line x1="67" y1="581" x2="82" y2="585"/>
<line x1="82" y1="585" x2="96" y2="593"/><line x1="96" y1="593" x2="107" y2="605"/><line x1="107" y1="605" x2="115" y2="618"/><line x1="115" y1="618" x2="120" y2="633"/><line x1="120" y1="633" x2="131" y2="644"/><line x1="131" y1="644" x2="146" y2="644"/><line x1="146" y1="644" x2="159" y2="637"/><line x1="159" y1="637" x2="170" y2="625"/><line x1="170" y1="625" x2="180" y2="613"/><line x1="180" y1="613" x2="191" y2="602"/>
<line x1="82" y1="585" x2="75" y2="599"/><line class="gr" x1="75" y1="599" x2="67" y2="613"/><line x1="67" y1="613" x2="60" y2="627"/><line x1="60" y1="627" x2="54" y2="640"/>
<line x1="191" y1="602" x2="203" y2="610"/><line class="bl" x1="203" y1="610" x2="214" y2="620"/>
<line x1="191" y1="602" x2="193" y2="586"/><line x1="193" y1="586" x2="195" y2="570"/><line x1="195" y1="570" x2="198" y2="555"/><line x1="198" y1="555" x2="199" y2="541"/>
<line x1="271" y1="515" x2="267" y2="529"/><line class="gr" x1="267" y1="529" x2="261" y2="544"/><line class="bl" x1="237" y1="525" x2="248" y2="534"/><line x1="248" y1="534" x2="261" y2="544"/>
<line x1="261" y1="544" x2="249" y2="555"/><line class="gr" x1="249" y1="555" x2="237" y2="565"/><line x1="237" y1="565" x2="227" y2="576"/>
<line class="gr" x1="261" y1="544" x2="276" y2="553"/><line x1="276" y1="553" x2="290" y2="563"/><line x1="290" y1="563" x2="284" y2="578"/><line x1="284" y1="578" x2="278" y2="591"/>
<line x1="290" y1="563" x2="308" y2="565"/><line x1="308" y1="565" x2="326" y2="568"/>
<line class="bl" x1="326" y1="568" x2="334" y2="554"/><line class="bl" x1="326" y1="568" x2="340" y2="561"/><line class="bl" x1="326" y1="568" x2="336" y2="581"/><line class="bl" x1="326" y1="568" x2="319" y2="583"/>
<line class="bl" x1="334" y1="554" x2="344" y2="545"/><line class="bl" x1="340" y1="561" x2="351" y2="555"/><line class="bl" x1="336" y1="581" x2="344" y2="594"/><line class="bl" x1="319" y1="583" x2="314" y2="597"/>
<line class="bl" x1="53" y1="689" x2="62" y2="701"/><line x1="62" y1="701" x2="70" y2="714"/><line class="bl" x1="53" y1="737" x2="62" y2="726"/><line x1="62" y1="726" x2="70" y2="714"/><line x1="70" y1="714" x2="86" y2="716"/><line x1="86" y1="716" x2="101" y2="716"/><line x1="101" y1="716" x2="115" y2="714"/>
<line x1="128" y1="689" x2="130" y2="704"/><line x1="130" y1="704" x2="132" y2="719"/><line x1="132" y1="719" x2="134" y2="733"/><line x1="134" y1="733" x2="138" y2="747"/><line x1="138" y1="747" x2="145" y2="760"/>
<line x1="169" y1="689" x2="169" y2="704"/><line x1="169" y1="704" x2="168" y2="719"/><line x1="168" y1="719" x2="167" y2="733"/><line x1="167" y1="733" x2="165" y2="747"/><line x1="165" y1="747" x2="157" y2="760"/>
<line class="bl" x1="182" y1="690" x2="193" y2="699"/><line x1="193" y1="699" x2="204" y2="709"/><line x1="204" y1="709" x2="219" y2="710"/><line class="bl" x1="219" y1="710" x2="233" y2="713"/><line x1="204" y1="709" x2="199" y2="723"/>
<line x1="80" y1="773" x2="75" y2="787"/><line x1="75" y1="787" x2="65" y2="797"/><line class="bl" x1="65" y1="797" x2="53" y2="803"/>
<line x1="121" y1="773" x2="115" y2="787"/><line x1="115" y1="787" x2="106" y2="797"/><line class="bl" x1="106" y1="797" x2="93" y2="803"/>
<line x1="161" y1="773" x2="156" y2="787"/><line x1="156" y1="787" x2="147" y2="797"/><line x1="147" y1="797" x2="133" y2="803"/>
<line x1="202" y1="773" x2="196" y2="787"/><line x1="196" y1="787" x2="187" y2="797"/><line class="bl" x1="187" y1="797" x2="174" y2="803"/>
<line x1="242" y1="773" x2="237" y2="787"/><line x1="237" y1="787" x2="227" y2="797"/><line class="bl" x1="227" y1="797" x2="214" y2="803"/>
<line class="bl" x1="82" y1="817" x2="71" y2="826"/><line x1="71" y1="826" x2="61" y2="835"/><line x1="61" y1="835" x2="53" y2="847"/>
<line class="bl" x1="125" y1="817" x2="114" y2="826"/><line x1="114" y1="826" x2="104" y2="835"/><line x1="104" y1="835" x2="95" y2="847"/>
<line x1="138" y1="817" x2="138" y2="831"/><line x1="152" y1="817" x2="152" y2="831"/><line x1="165" y1="817" x2="165" y2="831"/><line x1="178" y1="817" x2="178" y2="831"/><line x1="192" y1="817" x2="192" y2="831"/><line x1="204" y1="817" x2="204" y2="831"/><line x1="218" y1="817" x2="218" y2="831"/>
<line x1="53" y1="860" x2="53" y2="873"/><line x1="66" y1="860" x2="66" y2="873"/><line x1="79" y1="860" x2="79" y2="873"/><line x1="93" y1="860" x2="93" y2="873"/><line x1="106" y1="860" x2="106" y2="873"/><line x1="119" y1="860" x2="119" y2="873"/><line x1="133" y1="860" x2="133" y2="873"/><line x1="146" y1="860" x2="146" y2="873"/>
<line x1="146" y1="860" x2="159" y2="860"/><line x1="185" y1="860" x2="198" y2="860"/>
<line x1="50" y1="886" x2="63" y2="886"/><line x1="117" y1="886" x2="130" y2="886"/><line x1="171" y1="886" x2="184" y2="886"/>
<line x1="50" y1="900" x2="64" y2="900"/><line x1="64" y1="900" x2="77" y2="900"/>
</g>
<g id="p3-nodes">
<g id="p3-n1"><use href="#k3" x="114" y="515"/></g><g id="p3-n2"><use href="#t3" x="104" y="526"/></g><g id="p3-n3"><use href="#r3" x="97" y="539"/></g><g id="p3-n4"><use href="#t3" x="91" y="553"/></g><g id="p3-n5"><use href="#r3" x="87" y="569"/></g>
<g id="p3-n6"><use href="#b3" x="53" y="578"/></g><g id="p3-n7"><use href="#r3" x="67" y="581"/></g><g id="p3-n8"><use href="#t3" x="82" y="585"/></g><g id="p3-n9"><use href="#r3" x="96" y="593"/></g><g id="p3-n10"><use href="#r3" x="75" y="599"/></g>
<g id="p3-n11"><use href="#t3" x="107" y="605"/></g><g id="p3-n12"><use href="#k3" x="67" y="613"/></g><g id="p3-n13"><use href="#r3" x="115" y="618"/></g><g id="p3-n14"><use href="#t3" x="60" y="627"/></g><g id="p3-n15"><use href="#t3" x="120" y="633"/></g>
<g id="p3-n16"><use href="#r3" x="54" y="640"/></g><g id="p3-n17"><use href="#k3" x="131" y="644"/></g><g id="p3-n18"><use href="#t3" x="146" y="644"/></g><g id="p3-n19"><use href="#r3" x="159" y="637"/></g><g id="p3-n20"><use href="#t3" x="170" y="625"/></g>
<g id="p3-n21"><use href="#r3" x="180" y="613"/></g><g id="p3-n22"><use href="#t3" x="191" y="602"/></g><g id="p3-n23"><use href="#r3" x="203" y="610"/></g><g id="p3-n24"><use href="#b3" x="214" y="620"/></g><g id="p3-n25"><use href="#r3" x="193" y="586"/></g>
<g id="p3-n26"><use href="#k3" x="195" y="570"/></g><g id="p3-n27"><use href="#t3" x="198" y="555"/></g><g id="p3-n28"><use href="#r3" x="199" y="541"/></g>
<g id="p3-n29"><use href="#t3" x="271" y="515"/></g><g id="p3-n30"><use href="#r3" x="267" y="529"/></g><g id="p3-n31"><use href="#b3" x="237" y="525"/></g><g id="p3-n32"><use href="#r3" x="248" y="534"/></g><g id="p3-n33"><use href="#t3" x="261" y="544"/></g>
<g id="p3-n34"><use href="#r3" x="249" y="555"/></g><g id="p3-n35"><use href="#t3" x="237" y="565"/></g><g id="p3-n36"><use href="#r3" x="227" y="576"/></g><g id="p3-n37"><use href="#r3" x="276" y="553"/></g><g id="p3-n38"><use href="#t3" x="290" y="563"/></g>
<g id="p3-n39"><use href="#r3" x="284" y="578"/></g><g id="p3-n40"><use href="#t3" x="278" y="591"/></g><g id="p3-n41"><use href="#r3" x="308" y="565"/></g><g id="p3-n42"><use href="#t3" x="326" y="568"/></g>
<g id="p3-n43"><use href="#r3" x="334" y="554"/></g><g id="p3-n44"><use href="#r3" x="340" y="561"/></g><g id="p3-n45"><use href="#r3" x="336" y="581"/></g><g id="p3-n46"><use href="#r3" x="319" y="583"/></g>
<g id="p3-n47"><use href="#b3" x="344" y="545"/></g><g id="p3-n48"><use href="#b3" x="351" y="555"/></g><g id="p3-n49"><use href="#b3" x="344" y="594"/></g><g id="p3-n50"><use href="#b3" x="314" y="597"/></g>
<g id="p3-n51"><use href="#b3" x="53" y="689"/></g><g id="p3-n52"><use href="#r3" x="62" y="701"/></g><g id="p3-n53"><use href="#t3" x="70" y="714"/></g><g id="p3-n54"><use href="#b3" x="53" y="737"/></g><g id="p3-n55"><use href="#r3" x="62" y="726"/></g>
<g id="p3-n56"><use href="#r3" x="86" y="716"/></g><g id="p3-n57"><use href="#t3" x="101" y="716"/></g><g id="p3-n58"><use href="#r3" x="115" y="714"/></g>
<g id="p3-n59"><use href="#t3" x="128" y="689"/></g><g id="p3-n60"><use href="#r3" x="130" y="704"/></g><g id="p3-n61"><use href="#t3" x="132" y="719"/></g><g id="p3-n62"><use href="#r3" x="134" y="733"/></g><g id="p3-n63"><use href="#t3" x="138" y="747"/></g><g id="p3-n64"><use href="#r3" x="145" y="760"/></g>
<g id="p3-n65"><use href="#t3" x="169" y="689"/></g><g id="p3-n66"><use href="#r3" x="169" y="704"/></g><g id="p3-n67"><use href="#t3" x="168" y="719"/></g><g id="p3-n68"><use href="#r3" x="167" y="733"/></g><g id="p3-n69"><use href="#t3" x="165" y="747"/></g><g id="p3-n70"><use href="#r3" x="157" y="760"/></g>
<g id="p3-n71"><use href="#b3" x="182" y="690"/></g><g id="p3-n72"><use href="#r3" x="193" y="699"/></g><g id="p3-n73"><use href="#t3" x="204" y="709"/></g><g id="p3-n74"><use href="#r3" x="219" y="710"/></g><g id="p3-n75"><use href="#b3" x="233" y="713"/></g><g id="p3-n76"><use href="#r3" x="199" y="723"/></g>
<g id="p3-n77"><use href="#r3" x="80" y="773"/></g><g id="p3-n78"><use href="#t3" x="75" y="787"/></g><g id="p3-n79"><use href="#r3" x="65" y="797"/></g><g id="p3-n80"><use href="#b3" x="53" y="803"/></g>
<g id="p3-n81"><use href="#r3" x="121" y="773"/></g><g id="p3-n82"><use href="#t3" x="115" y="787"/></g><g id="p3-n83"><use href="#r3" x="106" y="797"/></g><g id="p3-n84"><use href="#b3" x="93" y="803"/></g>
<g id="p3-n85"><use href="#r3" x="161" y="773"/></g><g id="p3-n86"><use href="#t3" x="156" y="787"/></g><g id="p3-n87"><use href="#r3" x="147" y="797"/></g><g id="p3-n88"><use href="#t3" x="133" y="803"/></g>
<g id="p3-n89"><use href="#r3" x="202" y="773"/></g><g id="p3-n90"><use href="#t3" x="196" y="787"/></g><g id="p3-n91"><use href="#r3" x="187" y="797"/></g><g id="p3-n92"><use href="#b3" x="174" y="803"/></g>
<g id="p3-n93"><use href="#r3" x="242" y="773"/></g><g id="p3-n94"><use href="#t3" x="237" y="787"/></g><g id="p3-n95"><use href="#r3" x="227" y="797"/></g><g id="p3-n96"><use href="#b3" x="214" y="803"/></g>
<g id="p3-n97"><use href="#b3" x="82" y="817"/></g><g id="p3-n98"><use href="#r3" x="71" y="826"/></g><g id="p3-n99"><use href="#t3" x="61" y="835"/></g><g id="p3-n100"><use href="#r3" x="53" y="847"/></g>
<g id="p3-n101"><use href="#b3" x="125" y="817"/></g><g id="p3-n102"><use href="#r3" x="114" y="826"/></g><g id="p3-n103"><use href="#t3" x="104" y="835"/></g><g id="p3-n104"><use href="#r3" x="95" y="847"/></g>
<g id="p3-row1"><use href="#t3" x="138" y="817"/><use href="#t3" x="152" y="817"/><use href="#t3" x="165" y="817"/><use href="#t3" x="178" y="817"/><use href="#t3" x="192" y="817"/><use href="#t3" x="204" y="817"/><use href="#t3" x="218" y="817"/>
<use href="#r3" x="138" y="831"/><use href="#r3" x="152" y="831"/><use href="#r3" x="165" y="831"/><use href="#r3" x="178" y="831"/><use href="#r3" x="192" y="831"/><use href="#r3" x="204" y="831"/><use href="#r3" x="218" y="831"/></g>
<g id="p3-row2"><use href="#t3" x="53" y="860"/><use href="#t3" x="66" y="860"/><use href="#t3" x="79" y="860"/><use href="#t3" x="93" y="860"/><use href="#t3" x="106" y="860"/><use href="#t3" x="119" y="860"/><use href="#t3" x="133" y="860"/><use href="#t3" x="146" y="860"/>
<use href="#r3" x="53" y="873"/><use href="#r3" x="66" y="873"/><use href="#r3" x="79" y="873"/><use href="#r3" x="93" y="873"/><use href="#r3" x="106" y="873"/><use href="#r3" x="119" y="873"/><use href="#r3" x="133" y="873"/><use href="#r3" x="146" y="873"/>
<use href="#k3" x="159" y="860"/><use href="#k3" x="172" y="860"/><use href="#k3" x="185" y="860"/><use href="#k3" x="198" y="860"/><use href="#k3" x="211" y="860"/><use href="#k3" x="224" y="860"/></g>
<g id="p3-row3"><use href="#k3" x="50" y="886"/><use href="#k3" x="63" y="886"/><use href="#k3" x="77" y="886"/><use href="#k3" x="90" y="886"/><use href="#k3" x="104" y="886"/><use href="#k3" x="117" y="886"/><use href="#k3" x="130" y="886"/><use href="#k3" x="144" y="886"/><use href="#k3" x="157" y="886"/><use href="#k3" x="171" y="886"/><use href="#k3" x="184" y="886"/><use href="#k3" x="197" y="886"/><use href="#k3" x="211" y="886"/><use href="#k3" x="224" y="886"/></g>
<g id="p3-row4"><use href="#k3" x="50" y="900"/><use href="#k3" x="64" y="900"/><use href="#k3" x="77" y="900"/></g>
</g>

<!-- ================= PANEL 4 ================= -->
<g id="p4-connectors" class="c4">
<line class="gr" x1="430" y1="612" x2="433" y2="622"/><line class="bl" x1="433" y1="622" x2="439" y2="632"/><line x1="439" y1="632" x2="444" y2="643"/>
<line class="bl" x1="458" y1="625" x2="451" y2="633"/><line x1="451" y1="633" x2="444" y2="643"/>
<line class="gr" x1="411" y1="647" x2="422" y2="646"/><line class="bl" x1="422" y1="646" x2="433" y2="644"/><line x1="433" y1="644" x2="444" y2="643"/>
<line x1="444" y1="643" x2="456" y2="643"/><line class="bl" x1="456" y1="643" x2="467" y2="642"/>
<line x1="444" y1="643" x2="448" y2="656"/><line class="gr" x1="448" y1="656" x2="450" y2="668"/>
<line x1="450" y1="668" x2="461" y2="671"/><line x1="461" y1="671" x2="471" y2="673"/>
<line x1="450" y1="668" x2="445" y2="679"/><line class="gr" x1="445" y1="679" x2="440" y2="691"/>
<line class="bl" x1="419" y1="689" x2="429" y2="689"/><line x1="429" y1="689" x2="440" y2="691"/>
<line x1="440" y1="691" x2="449" y2="697"/><line x1="449" y1="697" x2="458" y2="704"/>
<line x1="440" y1="691" x2="435" y2="702"/><line x1="435" y1="702" x2="431" y2="712"/><line x1="431" y1="712" x2="427" y2="722"/>
<line x1="488" y1="612" x2="489" y2="622"/><line x1="489" y1="622" x2="493" y2="632"/><line x1="493" y1="632" x2="497" y2="643"/>
<line x1="497" y1="643" x2="489" y2="650"/><line class="bl" x1="489" y1="650" x2="481" y2="657"/>
<line x1="497" y1="643" x2="507" y2="646"/><line class="bl" x1="507" y1="646" x2="517" y2="649"/><line class="gr" x1="517" y1="649" x2="527" y2="653"/>
<line class="bl" x1="536" y1="613" x2="546" y2="618"/><line x1="546" y1="618" x2="555" y2="622"/>
<line class="gr" x1="559" y1="612" x2="555" y2="622"/><line x1="555" y1="622" x2="566" y2="623"/>
<line x1="555" y1="622" x2="555" y2="633"/><line class="bl" x1="555" y1="633" x2="553" y2="643"/><line class="gr" x1="553" y1="643" x2="551" y2="653"/>
<line x1="636" y1="597" x2="630" y2="606"/><line x1="630" y1="606" x2="625" y2="615"/><line class="gr" x1="625" y1="615" x2="622" y2="626"/><line x1="622" y1="626" x2="621" y2="638"/><line x1="621" y1="638" x2="624" y2="650"/>
<line x1="624" y1="650" x2="613" y2="653"/><line class="bl" x1="613" y1="653" x2="603" y2="657"/>
<line x1="624" y1="650" x2="633" y2="644"/><line x1="633" y1="644" x2="642" y2="637"/><line x1="642" y1="637" x2="651" y2="631"/><line x1="651" y1="631" x2="658" y2="623"/>
<line x1="624" y1="650" x2="631" y2="660"/><line x1="631" y1="660" x2="640" y2="668"/><line x1="640" y1="668" x2="651" y2="674"/><line x1="651" y1="674" x2="662" y2="677"/><line x1="662" y1="677" x2="674" y2="679"/><line x1="674" y1="679" x2="685" y2="677"/><line x1="685" y1="677" x2="695" y2="672"/><line x1="695" y1="672" x2="704" y2="664"/><line x1="704" y1="664" x2="711" y2="656"/><line x1="711" y1="656" x2="717" y2="647"/>
<line class="gr" x1="665" y1="667" x2="662" y2="677"/>
<line x1="717" y1="647" x2="714" y2="636"/><line class="bl" x1="714" y1="636" x2="710" y2="626"/>
<line x1="717" y1="647" x2="729" y2="647"/><line x1="729" y1="647" x2="739" y2="649"/><line x1="739" y1="649" x2="749" y2="654"/><line x1="749" y1="654" x2="758" y2="659"/>
<line x1="411" y1="731" x2="413" y2="742"/><line x1="413" y1="742" x2="414" y2="752"/><line x1="414" y1="752" x2="415" y2="762"/><line x1="415" y1="762" x2="418" y2="772"/><line x1="418" y1="772" x2="423" y2="781"/>
<line x1="440" y1="731" x2="440" y2="742"/><line x1="440" y1="742" x2="440" y2="752"/><line x1="440" y1="752" x2="440" y2="762"/><line x1="440" y1="762" x2="438" y2="772"/><line x1="438" y1="772" x2="432" y2="781"/>
<line x1="469" y1="731" x2="466" y2="741"/><line x1="466" y1="741" x2="459" y2="748"/><line class="bl" x1="459" y1="748" x2="450" y2="753"/>
<line x1="499" y1="731" x2="495" y2="741"/><line x1="495" y1="741" x2="488" y2="748"/><line class="bl" x1="488" y1="748" x2="479" y2="753"/>
<line x1="528" y1="731" x2="524" y2="741"/><line x1="524" y1="741" x2="517" y2="748"/><line x1="517" y1="748" x2="508" y2="753"/>
<line x1="557" y1="731" x2="553" y2="741"/><line x1="553" y1="741" x2="546" y2="748"/><line class="bl" x1="546" y1="748" x2="537" y2="753"/>
<line x1="431" y1="791" x2="427" y2="801"/><line x1="427" y1="801" x2="420" y2="808"/><line class="bl" x1="420" y1="808" x2="411" y2="812"/>
<line class="bl" x1="462" y1="791" x2="453" y2="797"/><line x1="453" y1="797" x2="447" y2="805"/><line x1="447" y1="805" x2="440" y2="812"/>
<line class="bl" x1="492" y1="791" x2="484" y2="797"/><line x1="484" y1="797" x2="477" y2="805"/><line x1="477" y1="805" x2="471" y2="812"/>
<line x1="502" y1="791" x2="502" y2="801"/><line x1="511" y1="791" x2="511" y2="801"/><line x1="521" y1="791" x2="521" y2="801"/><line x1="530" y1="791" x2="530" y2="801"/>
<line x1="411" y1="821" x2="411" y2="832"/><line x1="421" y1="821" x2="421" y2="832"/><line x1="430" y1="821" x2="430" y2="832"/><line x1="439" y1="821" x2="439" y2="832"/><line x1="449" y1="821" x2="449" y2="832"/><line x1="459" y1="821" x2="459" y2="832"/><line x1="468" y1="821" x2="468" y2="832"/><line x1="478" y1="821" x2="478" y2="832"/><line x1="487" y1="821" x2="487" y2="832"/><line x1="497" y1="821" x2="497" y2="832"/><line x1="507" y1="821" x2="507" y2="832"/>
<line x1="507" y1="821" x2="516" y2="821"/><line x1="525" y1="821" x2="534" y2="821"/><line x1="534" y1="821" x2="541" y2="821"/>
<line x1="405" y1="841" x2="411" y2="841"/><line x1="448" y1="841" x2="458" y2="841"/><line x1="485" y1="841" x2="495" y2="841"/>
<line x1="448" y1="851" x2="458" y2="851"/><line x1="458" y1="851" x2="465" y2="851"/>
</g>
<g id="p4-nodes">
<g id="p4-n1"><use href="#g4" x="430" y="612"/></g><g id="p4-n2"><use href="#b4" x="433" y="622"/></g><g id="p4-n3"><use href="#b4" x="458" y="625"/></g><g id="p4-n4"><use href="#r4" x="439" y="632"/></g><g id="p4-n5"><use href="#r4" x="451" y="633"/></g>
<g id="p4-n6"><use href="#t4" x="444" y="643"/></g><g id="p4-n7"><use href="#r4" x="433" y="644"/></g><g id="p4-n8"><use href="#b4" x="422" y="646"/></g><g id="p4-n9"><use href="#g4" x="411" y="647"/></g><g id="p4-n10"><use href="#r4" x="456" y="643"/></g>
<g id="p4-n11"><use href="#b4" x="467" y="642"/></g><g id="p4-n12"><use href="#r4" x="448" y="656"/></g><g id="p4-n13"><use href="#t4" x="450" y="668"/></g><g id="p4-n14"><use href="#r4" x="461" y="671"/></g><g id="p4-n15"><use href="#t4" x="471" y="673"/></g>
<g id="p4-n16"><use href="#r4" x="445" y="679"/></g><g id="p4-n17"><use href="#t4" x="440" y="691"/></g><g id="p4-n18"><use href="#r4" x="429" y="689"/></g><g id="p4-n19"><use href="#b4" x="419" y="689"/></g><g id="p4-n20"><use href="#r4" x="449" y="697"/></g>
<g id="p4-n21"><use href="#t4" x="458" y="704"/></g><g id="p4-n22"><use href="#r4" x="435" y="702"/></g><g id="p4-n23"><use href="#t4" x="431" y="712"/></g><g id="p4-n24"><use href="#r4" x="427" y="722"/></g>
<g id="p4-n25"><use href="#r4" x="488" y="612"/></g><g id="p4-n26"><use href="#t4" x="489" y="622"/></g><g id="p4-n27"><use href="#r4" x="493" y="632"/></g><g id="p4-n28"><use href="#t4" x="497" y="643"/></g><g id="p4-n29"><use href="#r4" x="489" y="650"/></g>
<g id="p4-n30"><use href="#b4" x="481" y="657"/></g><g id="p4-n31"><use href="#r4" x="507" y="646"/></g><g id="p4-n32"><use href="#b4" x="517" y="649"/></g><g id="p4-n33"><use href="#g4" x="527" y="653"/></g>
<g id="p4-n34"><use href="#b4" x="536" y="613"/></g><g id="p4-n35"><use href="#r4" x="546" y="618"/></g><g id="p4-n36"><use href="#t4" x="555" y="622"/></g><g id="p4-n37"><use href="#g4" x="559" y="612"/></g><g id="p4-n38"><use href="#r4" x="566" y="623"/></g>
<g id="p4-n39"><use href="#r4" x="555" y="633"/></g><g id="p4-n40"><use href="#b4" x="553" y="643"/></g><g id="p4-n41"><use href="#g4" x="551" y="653"/></g>
<g id="p4-n42"><use href="#k4" x="636" y="597"/></g><g id="p4-n43"><use href="#t4" x="630" y="606"/></g><g id="p4-n44"><use href="#r4" x="625" y="615"/></g><g id="p4-n45"><use href="#t4" x="622" y="626"/></g><g id="p4-n46"><use href="#r4" x="621" y="638"/></g>
<g id="p4-n47"><use href="#t4" x="624" y="650"/></g><g id="p4-n48"><use href="#r4" x="613" y="653"/></g><g id="p4-n49"><use href="#b4" x="603" y="657"/></g><g id="p4-n50"><use href="#r4" x="633" y="644"/></g><g id="p4-n51"><use href="#k4" x="642" y="637"/></g>
<g id="p4-n52"><use href="#t4" x="651" y="631"/></g><g id="p4-n53"><use href="#r4" x="658" y="623"/></g><g id="p4-n54"><use href="#r4" x="631" y="660"/></g><g id="p4-n55"><use href="#t4" x="640" y="668"/></g><g id="p4-n56"><use href="#r4" x="651" y="674"/></g>
<g id="p4-n57"><use href="#t4" x="662" y="677"/></g><g id="p4-n58"><use href="#g4" x="665" y="667"/></g><g id="p4-n59"><use href="#k4" x="674" y="679"/></g><g id="p4-n60"><use href="#t4" x="685" y="677"/></g><g id="p4-n61"><use href="#r4" x="695" y="672"/></g>
<g id="p4-n62"><use href="#t4" x="704" y="664"/></g><g id="p4-n63"><use href="#r4" x="711" y="656"/></g><g id="p4-n64"><use href="#t4" x="717" y="647"/></g><g id="p4-n65"><use href="#r4" x="714" y="636"/></g><g id="p4-n66"><use href="#b4" x="710" y="626"/></g>
<g id="p4-n67"><use href="#r4" x="729" y="647"/></g><g id="p4-n68"><use href="#k4" x="739" y="649"/></g><g id="p4-n69"><use href="#t4" x="749" y="654"/></g><g id="p4-n70"><use href="#r4" x="758" y="659"/></g>
<g id="p4-v1"><use href="#t4" x="411" y="731"/><use href="#r4" x="413" y="742"/><use href="#t4" x="414" y="752"/><use href="#r4" x="415" y="762"/><use href="#t4" x="418" y="772"/><use href="#r4" x="423" y="781"/></g>
<g id="p4-v2"><use href="#t4" x="440" y="731"/><use href="#r4" x="440" y="742"/><use href="#t4" x="440" y="752"/><use href="#r4" x="440" y="762"/><use href="#t4" x="438" y="772"/><use href="#r4" x="432" y="781"/></g>
<g id="p4-d1"><use href="#r4" x="469" y="731"/><use href="#t4" x="466" y="741"/><use href="#r4" x="459" y="748"/><use href="#b4" x="450" y="753"/></g>
<g id="p4-d2"><use href="#r4" x="499" y="731"/><use href="#t4" x="495" y="741"/><use href="#r4" x="488" y="748"/><use href="#b4" x="479" y="753"/></g>
<g id="p4-d3"><use href="#r4" x="528" y="731"/><use href="#t4" x="524" y="741"/><use href="#r4" x="517" y="748"/><use href="#t4" x="508" y="753"/></g>
<g id="p4-d4"><use href="#r4" x="557" y="731"/><use href="#t4" x="553" y="741"/><use href="#r4" x="546" y="748"/><use href="#b4" x="537" y="753"/></g>
<g id="p4-d5"><use href="#r4" x="431" y="791"/><use href="#t4" x="427" y="801"/><use href="#r4" x="420" y="808"/><use href="#b4" x="411" y="812"/></g>
<g id="p4-d6"><use href="#b4" x="462" y="791"/><use href="#r4" x="453" y="797"/><use href="#t4" x="447" y="805"/><use href="#r4" x="440" y="812"/></g>
<g id="p4-d7"><use href="#b4" x="492" y="791"/><use href="#r4" x="484" y="797"/><use href="#t4" x="477" y="805"/><use href="#r4" x="471" y="812"/></g>
<g id="p4-row1"><use href="#t4" x="502" y="791"/><use href="#t4" x="511" y="791"/><use href="#t4" x="521" y="791"/><use href="#t4" x="530" y="791"/><use href="#r4" x="502" y="801"/><use href="#r4" x="511" y="801"/><use href="#r4" x="521" y="801"/><use href="#r4" x="530" y="801"/></g>
<g id="p4-row2"><use href="#t4" x="411" y="821"/><use href="#t4" x="421" y="821"/><use href="#t4" x="430" y="821"/><use href="#t4" x="439" y="821"/><use href="#t4" x="449" y="821"/><use href="#t4" x="459" y="821"/><use href="#t4" x="468" y="821"/><use href="#t4" x="478" y="821"/><use href="#t4" x="487" y="821"/><use href="#t4" x="497" y="821"/><use href="#t4" x="507" y="821"/>
<use href="#k4" x="516" y="821"/><use href="#k4" x="525" y="821"/><use href="#k4" x="534" y="821"/>
<use href="#r4" x="411" y="832"/><use href="#r4" x="421" y="832"/><use href="#r4" x="430" y="832"/><use href="#r4" x="439" y="832"/><use href="#r4" x="449" y="832"/><use href="#r4" x="459" y="832"/><use href="#r4" x="468" y="832"/><use href="#r4" x="478" y="832"/><use href="#r4" x="487" y="832"/><use href="#r4" x="497" y="832"/><use href="#r4" x="507" y="832"/></g>
<g id="p4-row3"><use href="#k4" x="411" y="841"/><use href="#k4" x="420" y="841"/><use href="#k4" x="430" y="841"/><use href="#k4" x="439" y="841"/><use href="#k4" x="448" y="841"/><use href="#k4" x="458" y="841"/><use href="#k4" x="467" y="841"/><use href="#k4" x="476" y="841"/><use href="#k4" x="485" y="841"/><use href="#k4" x="495" y="841"/><use href="#k4" x="504" y="841"/><use href="#k4" x="513" y="841"/><use href="#k4" x="523" y="841"/><use href="#k4" x="532" y="841"/></g>
<g id="p4-row4"><use href="#k4" x="411" y="851"/><use href="#k4" x="420" y="851"/><use href="#k4" x="430" y="851"/><use href="#k4" x="439" y="851"/><use href="#k4" x="448" y="851"/><use href="#k4" x="458" y="851"/></g>
</g>

<!-- ================= PANEL 5 ================= -->
<g id="p5-connectors" class="c5">
<line x1="234" y1="999" x2="234" y2="1020"/>
<line class="gr" x1="234" y1="1041" x2="234" y2="1020"/>
<line class="gr" x1="234" y1="1063" x2="234" y2="1041"/>
<line x1="234" y1="1063" x2="233" y2="1087"/>
<line class="rd" x1="233" y1="1087" x2="254" y2="1091"/>
<line x1="183" y1="1041" x2="198" y2="1056"/>
<line class="bl" x1="198" y1="1056" x2="212" y2="1074"/>
<line x1="191" y1="1074" x2="212" y2="1074"/>
<line class="bl" x1="212" y1="1074" x2="233" y2="1087"/>
<line x1="233" y1="1087" x2="217" y2="1107"/>
<line x1="236" y1="1101" x2="232" y2="1122"/>
<line x1="254" y1="1091" x2="249" y2="1109"/>
<line x1="254" y1="1091" x2="263" y2="1114"/>
<line x1="263" y1="1114" x2="274" y2="1113"/>
<line x1="274" y1="1113" x2="289" y2="1119"/>
<line x1="289" y1="1119" x2="308" y2="1130"/>
<line x1="308" y1="1130" x2="288" y2="1138"/>
<line x1="264" y1="1132" x2="243" y2="1129"/>
<line x1="263" y1="1114" x2="264" y2="1132"/>
<line class="gr" x1="264" y1="1132" x2="274" y2="1159"/>
<line x1="274" y1="1159" x2="279" y2="1183"/>
<line x1="240" y1="1145" x2="263" y2="1114"/>
<line x1="218" y1="1134" x2="217" y2="1107"/>
<line x1="218" y1="1134" x2="240" y2="1145"/>
<line class="rd" x1="213" y1="1157" x2="196" y2="1142"/>
<line class="rd" x1="213" y1="1157" x2="186" y2="1156"/>
<line class="rd" x1="213" y1="1157" x2="218" y2="1134"/>
<line class="rd" x1="213" y1="1157" x2="227" y2="1162"/>
<line class="rd" x1="213" y1="1157" x2="198" y2="1177"/>
<line class="rd" x1="213" y1="1157" x2="213" y2="1177"/>
<line class="rd" x1="213" y1="1157" x2="240" y2="1145"/>
<line x1="178" y1="1126" x2="196" y2="1142"/>
<line x1="137" y1="1138" x2="160" y2="1145"/>
<line class="bl" x1="160" y1="1145" x2="186" y2="1156"/>
<line x1="163" y1="1163" x2="186" y2="1156"/>
<line class="gr" x1="300" y1="1086" x2="274" y2="1113"/>
<line x1="296" y1="1039" x2="298" y2="1061"/>
<line class="gr" x1="298" y1="1061" x2="300" y2="1086"/>
<line class="bl" x1="300" y1="1086" x2="319" y2="1066"/>
<line class="bl" x1="319" y1="1066" x2="331" y2="1043"/>
<line x1="331" y1="1043" x2="341" y2="1023"/>
<line x1="338" y1="1071" x2="319" y2="1066"/>
<line x1="300" y1="1086" x2="328" y2="1085"/>
<line class="gr" x1="328" y1="1085" x2="353" y2="1076"/>
<line x1="353" y1="1076" x2="373" y2="1064"/>
<line x1="177" y1="1186" x2="198" y2="1177"/>
<line class="bl" x1="198" y1="1177" x2="206" y2="1203"/>
<line x1="189" y1="1214" x2="206" y2="1203"/>
<line class="bl" x1="206" y1="1203" x2="232" y2="1210"/>
<line x1="243" y1="1178" x2="254" y2="1194"/>
<line class="bl" x1="254" y1="1194" x2="232" y2="1210"/>
<line class="bl" x1="254" y1="1194" x2="292" y2="1199"/>
<line x1="231" y1="1178" x2="232" y2="1210"/>
<line class="gr" x1="278" y1="1209" x2="279" y2="1185"/>
<line x1="292" y1="1199" x2="308" y2="1184"/>
<line x1="292" y1="1199" x2="305" y2="1218"/>
<line class="bl" x1="323" y1="1200" x2="292" y2="1199"/>
<line x1="339" y1="1212" x2="323" y2="1200"/>
<line class="bl" x1="323" y1="1200" x2="346" y2="1188"/>
<line x1="346" y1="1188" x2="367" y2="1182"/>
<line class="bl" x1="232" y1="1210" x2="217" y2="1237"/>
<line class="bl" x1="232" y1="1210" x2="236" y2="1238"/>
<line class="bl" x1="217" y1="1237" x2="225" y2="1260"/>
<line class="bl" x1="236" y1="1238" x2="225" y2="1260"/>
<line x1="199" y1="1249" x2="217" y2="1237"/>
<line x1="181" y1="1260" x2="199" y2="1249"/>
<line x1="251" y1="1253" x2="236" y2="1238"/>
<line x1="225" y1="1260" x2="223" y2="1286"/>
<line x1="223" y1="1286" x2="220" y2="1311"/>
<line x1="220" y1="1311" x2="206" y2="1330"/>
<line x1="233" y1="1324" x2="220" y2="1311"/>
<line x1="206" y1="1330" x2="195" y2="1348"/>
<line x1="461" y1="1157" x2="461" y2="1178"/><line x1="481" y1="1157" x2="481" y2="1178"/><line x1="501" y1="1157" x2="501" y2="1178"/><line x1="521" y1="1157" x2="521" y2="1178"/><line x1="541" y1="1157" x2="541" y2="1178"/><line x1="561" y1="1157" x2="561" y2="1178"/><line x1="581" y1="1157" x2="581" y2="1178"/><line x1="601" y1="1157" x2="601" y2="1178"/><line x1="621" y1="1157" x2="621" y2="1178"/><line x1="641" y1="1157" x2="641" y2="1178"/>
<line x1="654" y1="1157" x2="672" y2="1157"/>
<line x1="461" y1="1198" x2="482" y2="1198"/><line x1="524" y1="1198" x2="545" y2="1198"/><line x1="608" y1="1198" x2="629" y2="1198"/>
<line x1="461" y1="1217" x2="480" y2="1217"/><line x1="499" y1="1217" x2="518" y2="1217"/>
</g>
<g id="p5-edge-labels">
<text class="el2" x="236" y="1010">expression</text>
<text class="el2" x="236" y="1031">activation</text>
<text class="el2" x="236" y="1053">activation</text>
<text class="el2" x="236" y="1076">binding</text>
<text class="el2" x="190.5" y="1048">expression</text>
<text class="el2" x="201.5" y="1073">binding</text>
<text class="el2" x="298.5" y="1124">cleavage</text>
<text class="el2" x="253.5" y="1130">binding</text>
<text class="el2" x="276.5" y="1171">binding</text>
<text class="el2" x="297" y="1050">expression</text>
<text class="el2" x="336" y="1033">binding</text>
<text class="el2" x="340.5" y="1080">activation</text>
<text class="el2" x="363" y="1070">expression</text>
<text class="el2" x="224" y="1273">binding</text>
<text class="el2" x="221.5" y="1298">binding/association</text>
<text class="el2" x="213" y="1320">binding</text>
<text class="el2" x="200.5" y="1339">expression</text>
<text class="el2" x="343" y="1197">cleavage</text>
<text class="el2" x="356.5" y="1184">expression</text>
</g>
<g id="p5-nodes">
<g id="p5-n1"><use href="#r5" x="234" y="999"/></g>
<g id="p5-n2"><use href="#t5" x="234" y="1020"/><text class="l5" x="234" y="1020.8">PRKAG2</text></g>
<g id="p5-n3"><use href="#k5" x="234" y="1041"/></g>
<g id="p5-n4"><use href="#r5" x="234" y="1063"/></g>
<g id="p5-n5"><use href="#t5" x="233" y="1087"/><text class="l5" x="233" y="1087.8">MAPK1</text></g>
<g id="p5-n6"><use href="#g5" x="254" y="1091"/></g>
<g id="p5-n7"><use href="#r5" x="183" y="1041"/></g>
<g id="p5-n8"><use href="#t5" x="198" y="1056"/><text class="l5" x="198" y="1056.8">BCL2L1</text></g>
<g id="p5-n9"><use href="#b5" x="191" y="1074"/></g>
<g id="p5-n10"><use href="#r5" x="212" y="1074"/></g>
<g id="p5-n11"><use href="#t5" x="236" y="1101"/><text class="l5" x="236" y="1101.8">JUN</text></g>
<g id="p5-n12"><use href="#r5" x="217" y="1107"/></g>
<g id="p5-n13"><use href="#r5" x="232" y="1122"/></g>
<g id="p5-n14"><use href="#r5" x="249" y="1109"/></g>
<g id="p5-n15"><use href="#t5" x="263" y="1114"/><text class="l5" x="263" y="1114.8">CASP3</text></g>
<g id="p5-n16"><use href="#r5" x="274" y="1113"/></g>
<g id="p5-n17"><use href="#k5" x="289" y="1119"/></g>
<g id="p5-n18"><use href="#t5" x="308" y="1130"/><text class="l5" x="308" y="1130.8">CASP9</text></g>
<g id="p5-n19"><use href="#r5" x="288" y="1138"/></g>
<g id="p5-n20"><use href="#t5" x="264" y="1132"/><text class="l5" x="264" y="1132.8">BAX</text></g>
<g id="p5-n21"><use href="#r5" x="243" y="1129"/></g>
<g id="p5-n22"><use href="#t5" x="218" y="1134"/><text class="l5" x="218" y="1134.8">BAK1</text></g>
<g id="p5-n23"><use href="#t5" x="240" y="1145"/><text class="l5" x="240" y="1145.8">CYCS</text></g>
<g id="p5-n24"><use href="#r5" x="178" y="1126"/></g>
<g id="p5-n25"><use href="#t5" x="196" y="1142"/><text class="l5" x="196" y="1142.8">BCL2</text></g>
<g id="p5-n26"><use href="#b5" x="137" y="1138"/></g>
<g id="p5-n27"><use href="#r5" x="160" y="1145"/></g>
<g id="p5-n28"><use href="#t5" x="186" y="1156"/><text class="l5" x="186" y="1156.8">BCL2L11</text></g>
<g id="p5-n29"><use href="#g5" x="213" y="1157"/></g>
<g id="p5-n30"><use href="#r5" x="163" y="1163"/></g>
<g id="p5-n31"><use href="#r5" x="227" y="1162"/></g>
<g id="p5-n32"><use href="#t5" x="198" y="1177"/><text class="l5" x="198" y="1177.8">BID</text></g>
<g id="p5-n33"><use href="#t5" x="213" y="1177"/><text class="l5" x="213" y="1177.8">BAD</text></g>
<g id="p5-n34"><use href="#b5" x="231" y="1178"/></g>
<g id="p5-n35"><use href="#r5" x="243" y="1178"/></g>
<g id="p5-n36"><use href="#r5" x="274" y="1159"/></g>
<g id="p5-n37"><use href="#t5" x="279" y="1183"/><text class="l5" x="279" y="1183.8">SNCA</text></g>
<g id="p5-n38"><use href="#g5" x="308" y="1183"/></g>
<g id="p5-n39"><use href="#t5" x="346" y="1188"/><text class="l5" x="346" y="1188.8">APAF1</text></g>
<g id="p5-n40"><use href="#r5" x="367" y="1182"/></g>
<g id="p5-n41"><use href="#r5" x="177" y="1186"/></g>
<g id="p5-n42"><use href="#t5" x="296" y="1039"/><text class="l5" x="296" y="1039.8">GSK3B</text></g>
<g id="p5-n43"><use href="#r5" x="298" y="1061"/></g>
<g id="p5-n44"><use href="#t5" x="300" y="1086"/><text class="l5" x="300" y="1086.8">CASP8</text></g>
<g id="p5-n45"><use href="#r5" x="319" y="1066"/></g>
<g id="p5-n46"><use href="#b5" x="338" y="1071"/></g>
<g id="p5-n47"><use href="#t5" x="331" y="1043"/><text class="l5" x="331" y="1043.8">PARK7</text></g>
<g id="p5-n48"><use href="#r5" x="341" y="1023"/></g>
<g id="p5-n49"><use href="#r5" x="328" y="1085"/></g>
<g id="p5-n50"><use href="#t5" x="353" y="1076"/><text class="l5" x="353" y="1076.8">FADD</text></g>
<g id="p5-n51"><use href="#r5" x="373" y="1064"/></g>
<g id="p5-n52"><use href="#r5" x="254" y="1194"/></g>
<g id="p5-n53"><use href="#k5" x="278" y="1209"/></g>
<g id="p5-n54"><use href="#t5" x="292" y="1199"/><text class="l5" x="292" y="1199.8">TP53</text></g>
<g id="p5-n55"><use href="#r5" x="323" y="1200"/></g>
<g id="p5-n56"><use href="#b5" x="339" y="1212"/></g>
<g id="p5-n57"><use href="#r5" x="305" y="1218"/></g>
<g id="p5-n58"><use href="#r5" x="206" y="1203"/></g>
<g id="p5-n59"><use href="#b5" x="189" y="1214"/></g>
<g id="p5-n60"><use href="#t5" x="232" y="1210"/><text class="l5" x="232" y="1210.8">MAPT</text></g>
<g id="p5-n61"><use href="#r5" x="217" y="1237"/></g>
<g id="p5-n62"><use href="#r5" x="236" y="1238"/></g>
<g id="p5-n63"><use href="#b5" x="199" y="1249"/></g>
<g id="p5-n64"><use href="#g5" x="181" y="1260"/></g>
<g id="p5-n65"><use href="#b5" x="251" y="1253"/></g>
<g id="p5-n66"><use href="#t5" x="225" y="1260"/><text class="l5" x="225" y="1260.8">SNCA</text></g>
<g id="p5-n67"><use href="#r5" x="223" y="1286"/></g>
<g id="p5-n68"><use href="#t5" x="220" y="1311"/><text class="l5" x="220" y="1311.8">LRRK2</text></g>
<g id="p5-n69"><use href="#r5" x="206" y="1330"/></g>
<g id="p5-n70"><use href="#r5" x="233" y="1324"/></g>
<g id="p5-n71"><use href="#t5" x="195" y="1348"/><text class="l5" x="195" y="1348.8">PINK1</text></g>
<g id="p5-row1">
<use href="#t5" x="461" y="1157"/><use href="#t5" x="481" y="1157"/><use href="#t5" x="501" y="1157"/><use href="#t5" x="521" y="1157"/><use href="#t5" x="541" y="1157"/><use href="#t5" x="561" y="1157"/><use href="#t5" x="581" y="1157"/><use href="#t5" x="601" y="1157"/><use href="#t5" x="621" y="1157"/><use href="#t5" x="641" y="1157"/>
<use href="#k5" x="654" y="1157"/><use href="#k5" x="672" y="1157"/>
<text class="l5" x="461" y="1157.8">SLC6A3</text><text class="l5" x="481" y="1157.8">SNCA</text><text class="l5" x="501" y="1157.8">PARK7</text><text class="l5" x="521" y="1157.8">UCHL1</text><text class="l5" x="541" y="1157.8">PINK1</text><text class="l5" x="561" y="1157.8">SEPT5</text><text class="l5" x="581" y="1157.8">TH</text><text class="l5" x="601" y="1157.8">LRRK2</text><text class="l5" x="621" y="1157.8">UBB</text><text class="l5" x="641" y="1157.8">PRKN</text>
</g>
<g id="p5-row2"><use href="#r5" x="461" y="1178"/><use href="#r5" x="481" y="1178"/><use href="#r5" x="501" y="1178"/><use href="#r5" x="521" y="1178"/><use href="#r5" x="541" y="1178"/><use href="#r5" x="561" y="1178"/><use href="#r5" x="581" y="1178"/><use href="#r5" x="601" y="1178"/><use href="#r5" x="621" y="1178"/><use href="#r5" x="641" y="1178"/></g>
<g id="p5-row3"><use href="#k5" x="461" y="1198"/><use href="#k5" x="482" y="1198"/><use href="#k5" x="503" y="1198"/><use href="#k5" x="524" y="1198"/><use href="#k5" x="545" y="1198"/><use href="#k5" x="566" y="1198"/><use href="#k5" x="587" y="1198"/><use href="#k5" x="608" y="1198"/><use href="#k5" x="629" y="1198"/><use href="#k5" x="650" y="1198"/><use href="#k5" x="671" y="1198"/></g>
<g id="p5-row4"><use href="#k5" x="461" y="1217"/><use href="#k5" x="480" y="1217"/><use href="#k5" x="499" y="1217"/><use href="#k5" x="518" y="1217"/></g>
</g>
</svg>
